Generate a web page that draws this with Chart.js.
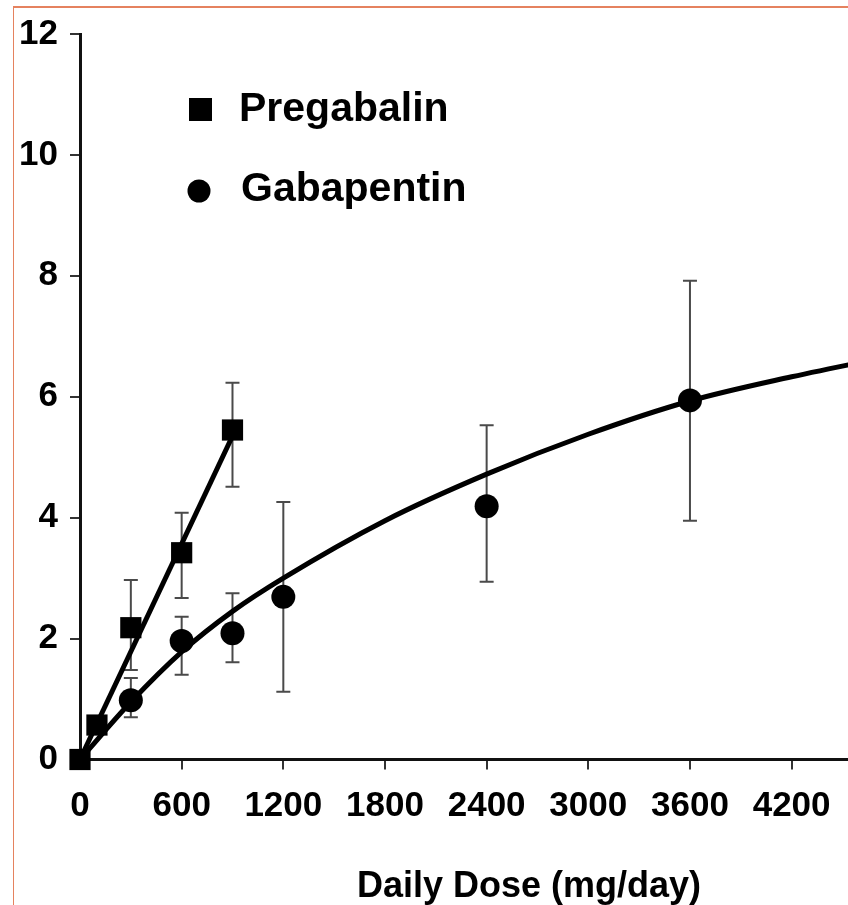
<!DOCTYPE html>
<html>
<head>
<meta charset="utf-8">
<script src="https://cdn.jsdelivr.net/npm/chart.js@4.4.1/dist/chart.umd.min.js"></script>
<style>
    html, body { margin: 0; padding: 0; background: #fff; overflow: hidden; }
    body { width: 848px; height: 905px; position: relative; }
    #frame {
        position: absolute; left: 13px; top: 6px; width: 1000px; height: 1000px;
        border-top: 2px solid #e5825f; border-left: 1px solid #e5825f;
    }
    #chart { position: absolute; left: 0; top: 0; }
</style>
</head>
<body>
<div id="frame"></div>
<canvas id="chart" width="993" height="905"></canvas>
<script>
// Datos
const pregabalinDose = [0, 100, 300, 600, 900];
const pregabalinMean = [0, 0.57, 2.18, 3.42, 5.45];
const pregabalinLow = [null, null, 1.48, 2.67, 4.51];
const pregabalinHigh = [null, null, 2.97, 4.08, 6.23];
const pregabalinFitDose = [0, 900];
const pregabalinFitValue = [0, 5.35];

const gabapentinDose = [300, 600, 900, 1200, 2400, 3600];
const gabapentinMean = [0.98, 1.96, 2.09, 2.69, 4.19, 5.94];
const gabapentinLow = [0.70, 1.40, 1.61, 1.12, 2.94, 3.95];
const gabapentinHigh = [1.35, 2.36, 2.75, 4.26, 5.53, 7.92];
const gabapentinFitDose = [0, 300, 600, 900, 1200, 1800, 2400, 3000, 3600, 4200, 4800];
const gabapentinFitValue = [0, 0.95, 1.78, 2.45, 3.0, 3.95, 4.72, 5.38, 5.93, 6.33, 6.68];

const xTicks = [0, 600, 1200, 1800, 2400, 3000, 3600, 4200, 4800];
const yTicks = [0, 2, 4, 6, 8, 10, 12];
const xTitle = 'Daily Dose (mg/day)';
const legendNames = ['Pregabalin', 'Gabapentin'];

const FONT = "'Liberation Sans', Arial, Helvetica, sans-serif";

const toPoints = (xs, ys) => xs.map((x, i) => ({ x: x, y: ys[i] }));

// Barras de error
const errorBars = {
    id: 'errorBars',
    beforeDatasetsDraw(chart) {
        const { ctx, scales: { x, y } } = chart;
        const groups = [
            [pregabalinDose, pregabalinLow, pregabalinHigh],
            [gabapentinDose, gabapentinLow, gabapentinHigh]
        ];
        ctx.save();
        ctx.strokeStyle = '#4a4a4a';
        ctx.lineWidth = 2;
        groups.forEach(([dose, low, high]) => {
            dose.forEach((d, i) => {
                if (low[i] == null) return;
                const px = x.getPixelForValue(d);
                const y1 = y.getPixelForValue(low[i]);
                const y2 = y.getPixelForValue(high[i]);
                ctx.beginPath();
                ctx.moveTo(px, y1); ctx.lineTo(px, y2);
                ctx.moveTo(px - 7, y1); ctx.lineTo(px + 7, y1);
                ctx.moveTo(px - 7, y2); ctx.lineTo(px + 7, y2);
                ctx.stroke();
            });
        });
        ctx.restore();
    }
};

// Leyenda dentro del área del gráfico
const insideLegend = {
    id: 'insideLegend',
    afterDraw(chart) {
        const ctx = chart.ctx;
        ctx.save();
        ctx.fillStyle = '#000';
        ctx.fillRect(189, 98, 23, 23);
        ctx.beginPath();
        ctx.arc(199, 191, 11.5, 0, Math.PI * 2);
        ctx.fill();
        ctx.font = 'bold 41px ' + FONT;
        ctx.textBaseline = 'alphabetic';
        ctx.fillText(legendNames[0], 239, 121);
        ctx.fillText(legendNames[1], 241, 201);
        ctx.restore();
    }
};

new Chart(document.getElementById('chart'), {
    type: 'scatter',
    data: {
        datasets: [
            {
                label: 'Pregabalin fit',
                type: 'line',
                data: toPoints(pregabalinFitDose, pregabalinFitValue),
                borderColor: '#000',
                borderWidth: 5,
                pointRadius: 0,
                clip: false
            },
            {
                label: 'Gabapentin fit',
                type: 'line',
                data: toPoints(gabapentinFitDose, gabapentinFitValue),
                borderColor: '#000',
                borderWidth: 5,
                pointRadius: 0,
                cubicInterpolationMode: 'monotone'
            },
            {
                label: legendNames[0],
                data: toPoints(pregabalinDose, pregabalinMean),
                pointStyle: 'rect',
                pointRadius: 15,
                backgroundColor: '#000',
                borderColor: '#000',
                borderWidth: 0,
                clip: false
            },
            {
                label: legendNames[1],
                data: toPoints(gabapentinDose, gabapentinMean),
                pointStyle: 'circle',
                pointRadius: 12,
                backgroundColor: '#000',
                borderColor: '#000',
                borderWidth: 0,
                clip: false
            }
        ]
    },
    options: {
        responsive: false,
        animation: false,
        layout: { padding: { left: 0, top: 34, right: 0, bottom: 0 } },
        plugins: {
            legend: { display: false },
            tooltip: { enabled: false }
        },
        scales: {
            x: {
                type: 'linear',
                min: 0,
                max: 5300,
                afterBuildTicks: s => { s.ticks = xTicks.map(v => ({ value: v })); },
                afterFit: s => { s.height = 145.5; },
                grid: { drawOnChartArea: false, tickLength: 10, color: '#333', lineWidth: 2 },
                border: { color: '#111', width: 3 },
                ticks: {
                    color: '#000',
                    padding: 16,
                    maxRotation: 0,
                    autoSkip: false,
                    callback: v => String(v),
                    font: { family: FONT, size: 35, weight: 'bold' }
                },
                title: {
                    display: true,
                    text: xTitle,
                    color: '#000',
                    padding: { top: 0, bottom: 0 },
                    font: { family: FONT, size: 36, weight: 'bold', lineHeight: 1 }
                }
            },
            y: {
                type: 'linear',
                min: 0,
                max: 12,
                afterBuildTicks: s => { s.ticks = yTicks.map(v => ({ value: v })); },
                afterFit: s => { s.width = 80; },
                grid: { drawOnChartArea: false, tickLength: 10, color: '#333', lineWidth: 2 },
                border: { color: '#111', width: 3 },
                ticks: {
                    color: '#000',
                    padding: 12,
                    font: { family: FONT, size: 35, weight: 'bold' }
                }
            }
        }
    },
    plugins: [errorBars, insideLegend]
});
</script>
</body>
</html>
